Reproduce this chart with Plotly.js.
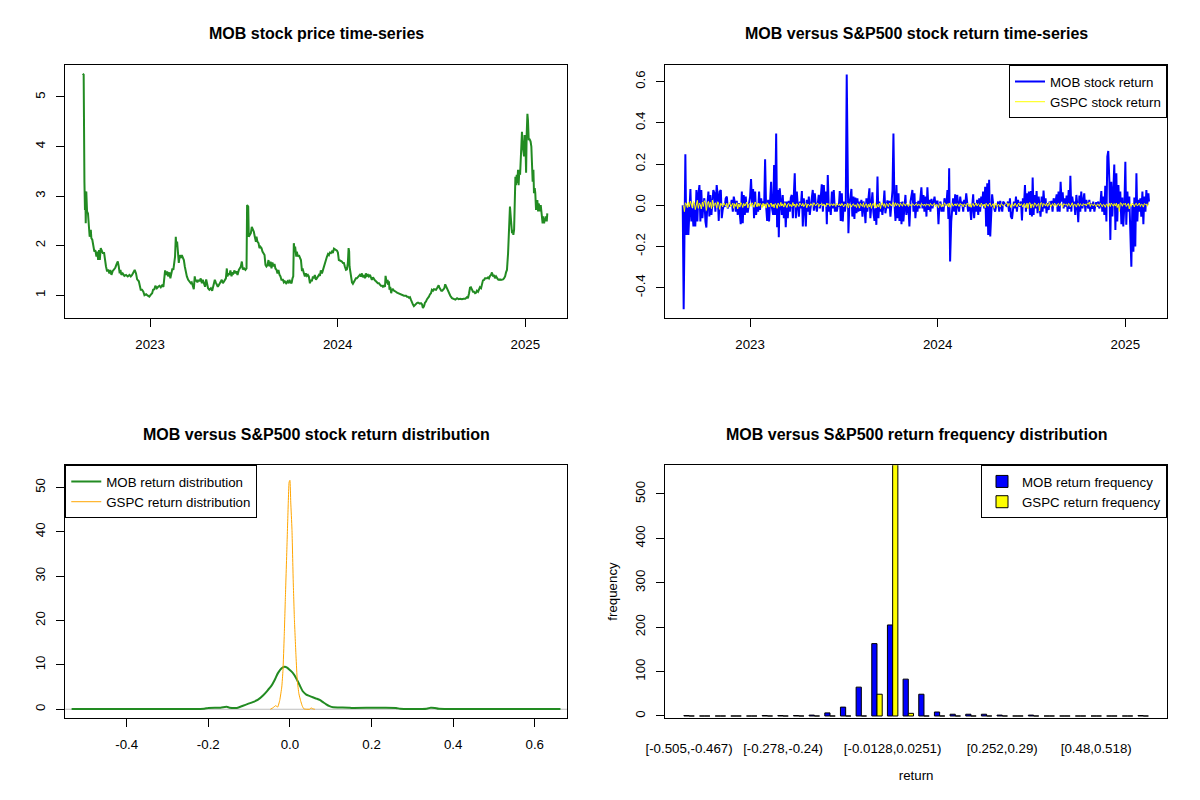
<!DOCTYPE html>
<html><head><meta charset="utf-8">
<script src="https://cdn.plot.ly/plotly-3.0.1.min.js"></script>
<style>html,body{margin:0;padding:0;background:#fff}#chart{width:1200px;height:800px}</style>
</head><body><div id="chart"></div>
<script>
// ---------- Panel 1: MOB price (decimal years) ----------
const priceYears = [
2022.641,2022.646,2022.650,2022.653,2022.655,2022.657,2022.660,2022.664,2022.669,2022.673,
2022.678,2022.684,2022.687,2022.692,2022.698,2022.703,2022.708,2022.714,2022.719,2022.723,
2022.728,2022.732,2022.737,2022.742,2022.748,2022.755,2022.760,2022.765,2022.771,2022.776,
2022.783,2022.788,2022.794,2022.801,2022.808,2022.815,2022.822,2022.828,2022.833,2022.838,
2022.842,2022.847,2022.854,2022.863,2022.872,2022.881,2022.890,2022.897,2022.904,2022.911,
2022.918,2022.925,2022.931,2022.940,2022.945,2022.950,2022.957,2022.964,2022.970,2022.979,
2022.988,2022.996,2023.004,2023.011,2023.016,2023.023,2023.028,2023.036,2023.043,2023.050,
2023.057,2023.064,2023.071,2023.076,2023.080,2023.085,2023.091,2023.096,2023.103,2023.108,
2023.114,2023.119,2023.124,2023.128,2023.133,2023.137,2023.140,2023.144,2023.149,2023.153,
2023.158,2023.164,2023.169,2023.174,2023.180,2023.185,2023.190,2023.196,2023.203,2023.210,
2023.217,2023.222,2023.228,2023.233,2023.238,2023.242,2023.247,2023.252,2023.258,2023.263,
2023.270,2023.276,2023.281,2023.288,2023.293,2023.299,2023.304,2023.309,2023.316,2023.324,
2023.331,2023.338,2023.345,2023.350,2023.356,2023.361,2023.366,2023.372,2023.377,2023.382,
2023.388,2023.393,2023.398,2023.404,2023.409,2023.412,2023.418,2023.423,2023.428,2023.434,
2023.439,2023.444,2023.450,2023.455,2023.460,2023.466,2023.473,2023.478,2023.484,2023.489,
2023.494,2023.501,2023.508,2023.514,2023.517,2023.523,2023.526,2023.532,2023.537,2023.542,
2023.548,2023.553,2023.558,2023.564,2023.567,2023.572,2023.578,2023.583,2023.588,2023.594,
2023.599,2023.604,2023.610,2023.615,2023.620,2023.626,2023.631,2023.636,2023.642,2023.647,
2023.652,2023.658,2023.663,2023.668,2023.674,2023.679,2023.684,2023.690,2023.695,2023.700,
2023.708,2023.713,2023.718,2023.725,2023.732,2023.738,2023.743,2023.748,2023.754,2023.759,
2023.763,2023.766,2023.770,2023.773,2023.779,2023.782,2023.788,2023.793,2023.798,2023.804,
2023.809,2023.814,2023.820,2023.825,2023.830,2023.836,2023.841,2023.846,2023.852,2023.857,
2023.862,2023.868,2023.873,2023.878,2023.884,2023.889,2023.894,2023.900,2023.905,2023.910,
2023.916,2023.921,2023.926,2023.932,2023.937,2023.942,2023.948,2023.953,2023.958,2023.964,
2023.969,2023.974,2023.980,2023.985,2023.990,2023.996,2024.001,2024.006,2024.012,2024.017,
2024.022,2024.028,2024.033,2024.038,2024.044,2024.049,2024.054,2024.058,2024.061,2024.063,
2024.067,2024.070,2024.076,2024.081,2024.086,2024.092,2024.097,2024.102,2024.108,2024.113,
2024.118,2024.124,2024.129,2024.134,2024.140,2024.145,2024.150,2024.156,2024.161,2024.166,
2024.172,2024.177,2024.182,2024.188,2024.193,2024.198,2024.204,2024.209,2024.214,2024.220,
2024.225,2024.230,2024.236,2024.241,2024.246,2024.252,2024.255,2024.259,2024.262,2024.266,
2024.269,2024.273,2024.276,2024.280,2024.285,2024.289,2024.294,2024.300,2024.305,2024.310,
2024.316,2024.321,2024.326,2024.332,2024.337,2024.342,2024.348,2024.353,2024.358,2024.364,
2024.369,2024.374,2024.380,2024.385,2024.390,2024.396,2024.401,2024.406,2024.412,2024.417,
2024.422,2024.428,2024.433,2024.438,2024.444,2024.449,2024.454,2024.460,2024.465,2024.470,
2024.476,2024.481,2024.486,2024.492,2024.497,2024.502,2024.508,2024.513,2024.518,2024.524,
2024.529,2024.534,2024.538,2024.541,2024.547,2024.552,2024.557,2024.563,2024.568,2024.573,
2024.579,2024.584,2024.591,2024.600,2024.609,2024.618,2024.627,2024.636,2024.644,2024.653,
2024.662,2024.671,2024.680,2024.689,2024.694,2024.700,2024.705,2024.710,2024.716,2024.721,
2024.726,2024.732,2024.737,2024.742,2024.748,2024.753,2024.758,2024.764,2024.769,2024.774,
2024.780,2024.785,2024.790,2024.796,2024.801,2024.806,2024.812,2024.817,2024.822,2024.828,
2024.833,2024.838,2024.844,2024.849,2024.854,2024.860,2024.865,2024.870,2024.876,2024.881,
2024.886,2024.892,2024.897,2024.902,2024.908,2024.911,2024.915,2024.918,2024.922,2024.925,
2024.929,2024.932,2024.936,2024.940,2024.943,2024.947,2024.950,2024.954,2024.957,2024.961,
2024.964,2024.968,2024.972,2024.975,2024.979,2024.982,2024.986,2024.989,2024.993,2024.996,
2025.000,2025.004,2025.007,2025.011,2025.014,2025.018,2025.021,2025.025,2025.028,2025.032,
2025.036,2025.039,2025.043,2025.046,2025.050,2025.053,2025.057,2025.060,2025.064,2025.068,
2025.071,2025.075,2025.078,2025.082,2025.085,2025.089,2025.092,2025.096,2025.100,2025.103,
2025.107,2025.110,2025.114,2025.117];
const priceValues = [
5.47,5.45,3.29,2.72,3.10,2.45,3.09,2.69,2.65,2.45,
2.18,2.32,2.15,2.12,2.01,1.88,1.91,1.78,1.88,1.71,
1.91,1.71,1.95,1.88,1.85,1.85,1.65,1.58,1.48,1.52,
1.44,1.51,1.41,1.49,1.52,1.56,1.63,1.68,1.58,1.44,
1.51,1.41,1.44,1.39,1.41,1.38,1.41,1.38,1.41,1.46,
1.51,1.44,1.32,1.28,1.21,1.11,1.11,1.07,1.00,1.02,
0.99,0.97,1.01,1.04,1.11,1.12,1.19,1.14,1.17,1.19,
1.16,1.20,1.17,1.31,1.50,1.41,1.48,1.38,1.46,1.34,
1.44,1.54,1.51,1.65,1.78,2.18,1.98,2.08,1.85,1.65,
1.81,1.75,1.81,1.75,1.71,1.58,1.44,1.38,1.31,1.28,
1.24,1.26,1.17,1.12,1.38,1.28,1.31,1.26,1.31,1.28,
1.34,1.24,1.31,1.24,1.17,1.32,1.17,1.14,1.11,1.14,
1.09,1.21,1.31,1.26,1.21,1.17,1.20,1.24,1.28,1.31,
1.24,1.28,1.31,1.34,1.54,1.38,1.44,1.41,1.50,1.38,
1.46,1.44,1.50,1.44,1.48,1.41,1.51,1.54,1.58,1.68,
1.52,1.54,1.51,1.54,2.82,2.79,2.18,2.22,2.25,2.38,
2.32,2.28,2.18,2.08,2.18,2.08,2.05,1.95,1.98,1.95,
1.88,1.85,1.81,1.61,1.58,1.61,1.71,1.58,1.68,1.54,
1.66,1.58,1.63,1.54,1.51,1.44,1.51,1.41,1.38,1.31,
1.31,1.26,1.28,1.24,1.28,1.24,1.31,1.26,1.24,1.34,
1.38,2.05,1.91,1.98,1.78,1.88,1.78,1.81,1.75,1.71,
1.51,1.52,1.44,1.38,1.44,1.39,1.41,1.38,1.24,1.31,
1.28,1.38,1.34,1.41,1.31,1.34,1.38,1.41,1.39,1.50,
1.44,1.51,1.59,1.65,1.71,1.77,1.83,1.81,1.86,1.85,
1.88,1.85,1.94,1.93,1.91,1.90,1.86,1.71,1.70,1.69,
1.68,1.65,1.65,1.58,1.51,1.52,1.65,1.95,1.88,1.58,
1.44,1.34,1.26,1.23,1.26,1.31,1.34,1.34,1.36,1.38,
1.41,1.38,1.44,1.36,1.41,1.34,1.44,1.39,1.41,1.38,
1.41,1.36,1.31,1.36,1.31,1.30,1.28,1.26,1.24,1.24,
1.22,1.19,1.19,1.17,1.19,1.17,1.39,1.31,1.24,1.31,
1.21,1.28,1.11,1.17,1.04,1.11,1.12,1.09,1.07,1.07,
1.05,1.04,1.03,1.03,1.01,1.01,1.00,0.99,0.99,0.99,
0.97,0.97,0.95,0.96,0.91,0.84,0.81,0.78,0.81,0.81,
0.84,0.85,0.84,0.83,0.84,0.82,0.74,0.78,0.85,0.87,
0.92,0.94,0.97,1.02,1.04,1.11,1.09,1.12,1.11,1.11,
1.14,1.17,1.20,1.16,1.12,1.09,1.09,1.12,1.14,1.22,
1.16,1.11,1.04,0.99,0.94,0.92,0.91,0.94,0.92,0.93,
0.92,0.93,0.93,0.96,0.94,1.04,1.15,1.16,1.12,1.07,
1.07,1.04,1.05,1.09,1.07,1.11,1.16,1.14,1.23,1.30,
1.31,1.34,1.34,1.34,1.36,1.34,1.39,1.41,1.46,1.38,
1.41,1.34,1.38,1.34,1.32,1.31,1.32,1.31,1.31,1.32,
1.34,1.38,1.46,1.51,1.85,2.25,2.38,2.79,2.59,2.38,
2.25,2.32,2.22,2.32,2.79,3.39,3.22,3.43,3.26,3.53,
3.22,3.53,3.43,3.66,3.93,4.30,3.96,3.93,3.80,4.23,
4.13,3.47,4.23,4.66,4.53,4.13,4.16,4.13,4.10,4.00,
3.53,3.29,3.53,3.06,3.16,3.06,2.72,2.92,2.92,2.69,
2.85,2.79,2.69,2.82,2.72,2.62,2.45,2.59,2.45,2.55,
2.49,2.59,2.49,2.65];

// ---------- Panel 2: daily returns (decimal years) ----------
const returnYears = [
2022.641,2022.646,2022.650,2022.655,2022.660,2022.666,2022.671,2022.676,2022.682,2022.687,
2022.692,2022.698,2022.703,2022.708,2022.714,2022.719,2022.724,2022.730,2022.735,2022.740,
2022.746,2022.751,2022.756,2022.762,2022.767,2022.772,2022.778,2022.783,2022.788,2022.794,
2022.799,2022.804,2022.810,2022.815,2022.822,2022.828,2022.833,2022.838,2022.844,2022.849,
2022.854,2022.860,2022.865,2022.870,2022.876,2022.881,2022.886,2022.892,2022.897,2022.902,
2022.908,2022.913,2022.918,2022.924,2022.929,2022.934,2022.940,2022.945,2022.950,2022.956,
2022.961,2022.966,2022.972,2022.977,2022.982,2022.988,2022.993,2023.000,2023.005,2023.011,
2023.016,2023.021,2023.027,2023.032,2023.037,2023.043,2023.048,2023.053,2023.059,2023.064,
2023.069,2023.075,2023.080,2023.085,2023.091,2023.096,2023.101,2023.107,2023.112,2023.117,
2023.123,2023.128,2023.133,2023.139,2023.144,2023.149,2023.153,2023.158,2023.164,2023.169,
2023.174,2023.180,2023.185,2023.190,2023.196,2023.201,2023.206,2023.212,2023.217,2023.222,
2023.228,2023.233,2023.238,2023.244,2023.249,2023.254,2023.260,2023.265,2023.270,2023.276,
2023.281,2023.286,2023.292,2023.297,2023.302,2023.308,2023.313,2023.318,2023.324,2023.329,
2023.334,2023.340,2023.345,2023.350,2023.356,2023.361,2023.366,2023.372,2023.377,2023.382,
2023.388,2023.393,2023.398,2023.404,2023.409,2023.414,2023.420,2023.425,2023.430,2023.436,
2023.441,2023.446,2023.452,2023.457,2023.462,2023.468,2023.473,
2023.478,2023.483,2023.489,2023.494,2023.499,2023.505,2023.510,2023.515,2023.521,2023.524,
2023.529,2023.535,2023.540,2023.545,2023.551,2023.556,2023.561,2023.567,2023.572,2023.577,
2023.583,2023.588,2023.593,2023.599,2023.604,2023.609,2023.615,2023.620,2023.625,2023.631,
2023.636,2023.641,2023.647,2023.652,2023.657,2023.663,2023.668,2023.673,2023.679,2023.684,
2023.689,2023.695,2023.700,2023.705,2023.711,2023.716,2023.721,2023.727,2023.732,2023.737,
2023.743,2023.748,2023.753,2023.759,2023.764,2023.769,2023.775,2023.780,2023.785,2023.791,
2023.796,2023.801,2023.807,2023.812,2023.817,2023.823,2023.828,2023.833,2023.839,2023.844,
2023.849,2023.855,2023.860,2023.865,2023.871,2023.876,2023.881,2023.887,2023.892,2023.897,
2023.903,2023.908,2023.913,2023.919,2023.924,2023.929,2023.935,2023.940,2023.945,2023.951,
2023.956,2023.961,2023.967,2023.972,2023.977,2023.983,2023.988,2023.993,2023.999,2024.004,
2024.009,2024.015,2024.020,2024.025,2024.031,2024.036,2024.041,2024.047,2024.052,2024.057,
2024.061,2024.066,2024.072,2024.077,2024.082,2024.088,2024.093,2024.098,2024.104,2024.109,
2024.114,2024.120,2024.125,2024.130,2024.136,2024.141,2024.146,2024.152,2024.157,2024.162,
2024.168,2024.173,2024.178,2024.184,2024.189,2024.194,2024.200,2024.205,2024.210,2024.216,
2024.221,2024.226,2024.232,2024.237,2024.242,2024.248,2024.253,2024.258,2024.264,2024.269,
2024.274,2024.280,2024.285,2024.290,2024.296,2024.301,2024.306,2024.312,2024.317,2024.322,
2024.328,2024.333,2024.338,2024.344,2024.349,
2024.369,2024.374,2024.380,2024.385,2024.390,2024.396,2024.401,2024.406,2024.412,2024.417,
2024.422,2024.428,2024.433,2024.438,2024.444,2024.449,2024.454,2024.460,2024.465,2024.470,
2024.476,2024.481,2024.486,2024.492,2024.497,2024.502,2024.506,2024.511,2024.516,2024.522,
2024.527,2024.532,2024.538,2024.543,2024.548,2024.554,2024.559,2024.564,2024.570,2024.575,
2024.580,2024.586,2024.591,2024.596,2024.602,2024.607,2024.612,2024.618,2024.623,2024.628,
2024.634,2024.639,2024.644,2024.650,2024.655,2024.660,2024.666,2024.671,2024.676,2024.682,
2024.687,2024.692,2024.698,2024.703,2024.707,2024.712,2024.717,2024.723,2024.728,2024.733,
2024.739,2024.744,2024.749,2024.755,2024.760,2024.765,2024.771,2024.776,2024.781,2024.787,
2024.792,2024.797,2024.803,2024.808,2024.813,2024.819,2024.824,2024.829,2024.835,2024.840,
2024.845,2024.851,2024.856,2024.861,2024.867,2024.872,2024.877,2024.883,2024.888,2024.893,
2024.899,2024.904,2024.909,2024.915,2024.920,2024.925,2024.931,2024.936,2024.941,2024.947,
2024.952,2024.957,2024.963,2024.968,2024.973,2024.979,2024.984,2024.989,2024.995,2025.000,
2025.005,2025.011,2025.016,2025.021,2025.027,2025.032,2025.037,2025.043,2025.048,2025.053,
2025.059,2025.064,2025.069,2025.075,2025.080,2025.085,2025.091,2025.096,2025.101,2025.107,
2025.112,2025.117,2025.123,2025.126];
const mobReturns = [
0.000,-0.504,-0.176,0.247,-0.144,0.000,-0.144,0.000,0.079,-0.079,
-0.015,-0.103,0.010,-0.103,0.074,-0.079,0.050,0.098,-0.079,0.074,
-0.063,0.000,0.034,-0.079,-0.108,0.000,0.066,-0.055,0.050,-0.047,
0.000,0.074,0.058,-0.031,0.098,0.042,-0.076,0.066,0.074,-0.063,
-0.023,0.000,-0.007,0.034,0.042,-0.015,0.000,-0.002,0.001,0.026,
-0.031,0.042,0.018,-0.031,0.021,-0.047,0.010,-0.063,-0.092,0.066,
-0.087,0.050,-0.047,0.042,-0.031,-0.031,0.001,0.042,0.127,0.001,
0.079,-0.063,0.066,-0.047,0.001,-0.031,0.066,-0.023,0.034,-0.007,
0.018,0.001,0.223,0.001,-0.076,0.026,-0.079,0.034,0.114,-0.015,
-0.047,0.195,-0.047,0.348,-0.107,0.074,-0.155,0.082,0.001,-0.047,
0.050,-0.063,0.018,-0.107,0.018,-0.063,0.021,-0.031,0.037,0.050,
-0.063,0.090,0.155,-0.063,0.066,0.001,-0.055,0.018,-0.015,0.069,
-0.103,0.034,-0.015,-0.103,0.026,-0.031,0.042,-0.047,0.001,0.010,
0.074,-0.027,0.058,0.001,-0.031,0.010,0.050,-0.015,0.042,0.102,
-0.031,0.098,0.001,0.066,-0.092,0.147,-0.031,0.001,-0.047,0.066,
-0.015,0.074,-0.031,0.001,-0.031,0.001,-0.007,
0.069,-0.076,0.058,-0.079,0.018,-0.031,0.005,0.634,0.018,-0.136,
0.001,0.042,0.079,-0.055,0.042,-0.066,0.037,-0.039,0.034,-0.031,
0.018,-0.027,0.026,-0.055,0.018,0.001,-0.087,0.034,-0.031,0.034,
0.082,-0.063,0.001,0.063,-0.031,-0.076,-0.015,-0.095,0.139,-0.063,
0.018,-0.031,0.001,-0.047,0.001,0.071,-0.039,-0.007,0.024,-0.015,
0.021,-0.055,0.005,0.074,0.348,0.018,-0.076,0.098,-0.063,0.058,
-0.076,0.014,-0.092,0.018,-0.079,0.018,0.050,-0.047,0.001,-0.007,
-0.103,0.018,0.050,0.074,-0.031,0.058,-0.063,0.014,-0.031,0.021,
-0.015,0.042,0.087,-0.015,0.050,-0.031,0.042,-0.055,0.087,-0.023,
0.026,-0.031,0.031,-0.015,0.018,0.042,0.001,0.018,0.018,-0.092,
0.001,0.018,-0.031,-0.007,-0.031,0.034,0.001,0.014,0.074,-0.066,
0.179,-0.273,-0.079,0.001,0.034,-0.031,0.053,-0.047,0.050,0.001,
-0.031,0.042,0.001,0.018,-0.031,0.026,-0.007,0.058,0.001,-0.031,
0.001,-0.015,-0.071,0.034,0.053,-0.063,0.010,-0.031,0.026,-0.047,
0.034,-0.031,0.042,0.001,0.066,-0.015,0.090,-0.103,0.106,-0.144,
0.123,-0.152,-0.031,0.053,0.001,-0.015,-0.031,0.001,-0.007,0.018,
-0.031,0.021,-0.015,-0.031,0.018,
-0.007,0.018,-0.031,0.034,-0.055,-0.066,0.001,0.018,-0.015,0.042,
-0.031,0.026,0.005,-0.007,0.018,-0.074,0.034,0.001,0.098,-0.031,
0.058,-0.015,0.066,-0.047,0.069,-0.055,0.135,-0.047,0.050,-0.015,
0.069,-0.039,0.042,-0.007,-0.055,0.042,-0.031,0.071,-0.015,0.034,
-0.039,0.010,-0.023,0.018,0.001,0.021,-0.031,0.034,0.001,0.018,
0.053,-0.031,0.066,-0.031,0.114,0.018,0.063,-0.015,0.034,-0.007,
0.047,-0.031,0.074,-0.018,0.143,-0.031,0.042,0.001,0.018,-0.047,
0.050,0.001,-0.082,0.047,-0.031,0.066,-0.015,0.018,0.058,-0.031,
0.026,0.001,-0.015,0.026,-0.031,0.010,-0.018,0.018,-0.031,0.001,
0.014,-0.007,0.018,-0.015,0.001,0.069,-0.031,0.042,-0.047,0.095,
-0.079,0.236,0.263,0.114,-0.168,0.114,-0.055,0.074,0.198,-0.120,
0.155,-0.079,0.098,-0.015,0.066,-0.092,0.037,-0.103,0.001,0.211,
-0.095,0.066,-0.031,0.042,-0.095,-0.298,0.001,-0.225,0.037,-0.200,
0.155,-0.079,0.026,-0.031,0.034,-0.055,0.066,-0.092,0.042,-0.031,
0.074,0.001,0.058,0.018];
const gspcReturns = [
0.000,-0.003,-0.031,0.012,0.006,-0.011,0.015,-0.008,0.020,0.005,
-0.012,0.018,0.010,-0.021,0.009,0.024,-0.015,0.011,0.003,-0.018,
0.016,-0.006,0.022,0.013,-0.025,0.007,0.019,-0.010,0.014,-0.016,
0.025,-0.009,0.004,0.012,-0.013,0.017,0.006,-0.020,0.010,0.003,
-0.008,0.011,0.005,-0.004,0.009,-0.012,0.006,0.014,-0.007,0.002,
0.010,-0.015,0.008,-0.006,0.012,-0.018,0.007,-0.009,0.013,0.004,
-0.011,0.009,-0.004,0.006,0.015,-0.013,0.005,0.008,-0.006,0.012,
0.004,-0.010,0.016,0.002,-0.008,0.011,-0.005,0.009,0.003,-0.012,
0.010,-0.004,0.007,-0.014,0.012,0.006,-0.009,0.004,0.011,-0.007,
0.005,-0.012,0.008,0.003,-0.015,0.010,0.002,-0.006,0.014,-0.004,
0.007,-0.009,0.012,0.003,-0.011,0.006,0.009,-0.005,0.004,-0.008,
0.013,-0.003,0.006,-0.010,0.008,0.002,-0.006,0.011,0.005,-0.004,
0.009,-0.007,0.004,0.010,-0.012,0.006,0.003,-0.005,0.008,0.002,
-0.006,0.012,0.004,-0.003,0.007,0.010,-0.008,0.005,0.002,0.009,
-0.004,0.006,0.003,-0.007,0.011,0.002,0.008,-0.005,0.004,0.006,
-0.003,0.008,0.002,-0.006,0.010,0.004,-0.002,
0.007,-0.004,0.009,0.002,-0.008,0.005,0.003,-0.006,0.010,-0.013,
0.006,0.004,-0.009,0.003,0.007,-0.005,0.002,-0.011,0.008,0.005,
-0.014,0.009,0.003,-0.006,0.012,-0.010,0.004,0.007,-0.012,0.005,
-0.008,0.011,-0.015,0.006,0.009,-0.007,0.012,-0.013,0.004,-0.009,
0.010,-0.016,0.006,0.013,-0.005,0.008,-0.011,0.009,0.004,-0.007,
0.011,0.006,-0.004,0.009,0.014,-0.006,0.012,-0.003,0.008,0.005,
-0.007,0.010,0.004,-0.005,0.011,0.006,-0.004,0.009,0.003,-0.006,
0.008,0.002,-0.005,0.007,0.004,-0.003,0.006,0.009,-0.004,0.005,
0.003,-0.006,0.008,0.004,-0.002,0.006,-0.005,0.007,0.002,0.004,
-0.005,0.009,0.003,-0.004,0.006,0.010,-0.007,0.004,0.002,-0.012,
0.008,0.006,-0.009,0.005,-0.006,0.012,0.004,-0.003,0.007,-0.008,
0.011,-0.010,0.006,0.009,-0.005,0.004,0.007,-0.004,0.008,0.003,
-0.006,0.009,0.002,0.005,-0.008,0.006,0.004,-0.005,0.010,0.003,
-0.007,0.008,-0.010,0.005,0.009,-0.006,0.004,0.011,-0.004,0.007,
0.003,-0.008,0.010,0.005,-0.004,0.006,-0.012,0.009,0.002,-0.005,
0.007,0.010,-0.006,0.004,0.008,-0.015,0.005,0.011,-0.007,0.004,
0.002,-0.009,0.008,0.005,-0.004,
0.012,-0.006,0.009,0.003,-0.011,0.007,0.004,-0.005,0.010,0.002,
-0.008,0.006,0.011,-0.004,0.007,0.003,-0.009,0.008,0.005,-0.012,
0.010,-0.018,0.009,0.012,-0.014,0.006,0.004,-0.010,0.011,0.007,
-0.006,0.003,0.009,-0.028,0.010,0.012,-0.007,0.008,0.005,-0.004,
0.011,-0.006,0.007,0.013,-0.009,0.004,0.008,-0.005,0.010,0.003,
-0.007,0.006,0.009,-0.004,0.008,0.005,-0.010,0.007,0.004,0.002,
0.006,-0.005,0.009,0.003,-0.008,0.007,0.012,-0.006,0.005,0.004,
-0.009,0.006,0.010,-0.005,0.007,0.003,-0.004,0.008,0.002,0.006,
-0.004,0.009,0.005,0.016,-0.006,0.008,0.004,-0.003,0.007,0.002,
-0.008,0.006,0.004,-0.005,0.009,0.003,-0.007,0.005,0.002,-0.010,
0.006,0.004,-0.008,0.009,-0.006,0.011,0.003,-0.005,0.008,-0.004,
0.010,-0.011,0.006,-0.030,0.012,0.009,-0.005,0.008,0.004,0.010,
-0.006,0.005,0.009,-0.018,0.007,-0.005,0.010,0.004,-0.008,0.006,
0.009,-0.004,0.007,0.011,-0.006,0.005,0.003,-0.009,0.008,0.004,
0.006,-0.005,0.010,0.012];

// ---------- Panel 3: kernel densities ----------
const mobDensX = [-0.535,-0.40,-0.30,-0.21,-0.20,-0.17,-0.155,-0.148,-0.13,-0.115,
 -0.103,-0.091,-0.079,-0.066,-0.056,-0.046,-0.038,-0.029,-0.021,-0.013,
 -0.007,-0.001,0.007,0.016,0.024,0.032,0.040,0.048,0.056,0.065,
 0.073,0.081,0.089,0.097,0.106,0.12,0.145,0.15,0.26,0.27,
 0.335,0.345,0.355,0.365,0.50,0.663];
const mobDensY = [0.08,0.08,0.08,0.1,0.3,0.35,0.55,0.35,0.3,0.8,
 1.2,1.6,2.1,3.1,4.1,5.2,6.5,8.2,9.2,9.6,
 9.4,8.9,8.2,6.9,5.4,4.0,3.3,3.0,2.7,2.4,
 2.1,1.6,1.1,0.7,0.45,0.4,0.35,0.3,0.3,0.1,
 0.12,0.35,0.3,0.1,0.08,0.08];
const gspcDensX = [-0.048,-0.042,-0.035,-0.030,-0.025,-0.020,-0.017,-0.014,-0.011,-0.007,
 -0.004,-0.002,0.000,0.002,0.005,0.008,0.011,0.015,0.018,0.022,
 0.026,0.030,0.034,0.040,0.048,0.052,0.056,0.061];
const gspcDensY = [0,0.3,0.8,0.5,2.0,5.0,8.8,16.4,25.5,37.6,
 46.7,51.2,51.6,46.7,40.6,29.2,20.2,11.8,6.5,3.5,
 2.0,0.8,0.1,0,0,0.3,0.1,0];

// ---------- Panel 4: binned frequencies ----------
const binLabels = ["[-0.505,-0.467)","[-0.467,-0.429)","[-0.429,-0.392)","[-0.392,-0.354)","[-0.354,-0.316)",
 "[-0.316,-0.278)","[-0.278,-0.24)","[-0.24,-0.202)","[-0.202,-0.164)","[-0.164,-0.126)",
 "[-0.126,-0.0885)","[-0.0885,-0.0506)","[-0.0506,-0.0128)","[-0.0128,0.0251)","[0.0251,0.063)",
 "[0.063,0.101)","[0.101,0.139)","[0.139,0.177)","[0.177,0.215)","[0.215,0.252)",
 "[0.252,0.29)","[0.29,0.328)","[0.328,0.366)","[0.366,0.404)","[0.404,0.442)",
 "[0.442,0.48)","[0.48,0.518)","[0.518,0.555)","[0.555,0.593)","[0.593,0.631]"];
const mobFreq  = [1,0,0,0,0,1,1,1,2,7,20,65,163,205,83,49,9,4,4,4,2,0,2,0,0,0,0,0,0,1];
const gspcFreq = [0,0,0,0,0,0,0,0,0,0,0,0,49,566,6,0,0,0,0,0,0,0,0,0,0,0,0,0,0,0];
const shownBinLabels = [binLabels[0], binLabels[6], binLabels[13], binLabels[20], binLabels[26]];

const yearTicks = [2023, 2024, 2025];
const yearTickText = ['2023', '2024', '2025'];
const priceTicks = [1, 2, 3, 4, 5];
const returnTicks = [-0.4, -0.2, 0, 0.2, 0.4, 0.6];
const returnTickText = ['-0.4', '-0.2', '0.0', '0.2', '0.4', '0.6'];
const densTicks = [0, 10, 20, 30, 40, 50];
const freqTicks = [0, 100, 200, 300, 400, 500];

// ---------- layout ----------
const FONT = 'Liberation Sans, Arial, Helvetica, sans-serif';
const SMALL = 13.3;
const XL = [0.0544, 0.4725], XR = [0.5544, 0.9725];
const YT = [0.6025, 0.9184], YB = [0.1029, 0.4184];

function ax(extra) {
  return Object.assign({
    showline: true, mirror: true, linecolor: '#000', linewidth: 1,
    ticks: 'outside', ticklen: 8, tickwidth: 1, tickcolor: '#000',
    showgrid: false, zeroline: false, fixedrange: true,
    tickfont: {family: FONT, size: SMALL, color: '#000'},
    ticklabelstandoff: 6
  }, extra);
}

const traces = [
  {type: 'scatter', mode: 'lines', x: priceYears, y: priceValues, xaxis: 'x', yaxis: 'y',
   line: {color: '#228B22', width: 2}, showlegend: false, name: 'MOB price'},
  {type: 'scatter', mode: 'lines', x: returnYears, y: mobReturns, xaxis: 'x2', yaxis: 'y2',
   line: {color: '#0000FF', width: 2}, name: 'MOB stock return', legend: 'legend'},
  {type: 'scatter', mode: 'lines', x: returnYears, y: gspcReturns, xaxis: 'x2', yaxis: 'y2',
   line: {color: '#FFFF00', width: 1}, name: 'GSPC stock return', legend: 'legend'},
  {type: 'scatter', mode: 'lines', x: mobDensX, y: mobDensY, xaxis: 'x3', yaxis: 'y3',
   line: {color: '#228B22', width: 2, shape: 'spline', smoothing: 0.6}, name: 'MOB return distribution', legend: 'legend2'},
  {type: 'scatter', mode: 'lines', x: gspcDensX, y: gspcDensY, xaxis: 'x3', yaxis: 'y3',
   line: {color: '#FFA500', width: 1, shape: 'spline', smoothing: 0.4}, name: 'GSPC return distribution', legend: 'legend2'},
  {type: 'bar', x: binLabels, y: mobFreq, xaxis: 'x4', yaxis: 'y4',
   marker: {color: '#0000FF', line: {color: '#000', width: 1}}, name: 'MOB return frequency', legend: 'legend3'},
  {type: 'bar', x: binLabels, y: gspcFreq, xaxis: 'x4', yaxis: 'y4',
   marker: {color: '#FFFF00', line: {color: '#000', width: 1}}, name: 'GSPC return frequency', legend: 'legend3'}
];

const legendBase = {
  bgcolor: '#FFFFFF', bordercolor: '#000', borderwidth: 1,
  font: {family: FONT, size: SMALL, color: '#000'}, tracegroupgap: 0, itemwidth: 30,
  yanchor: 'top', xref: 'paper', yref: 'paper'
};

const titleFont = {family: FONT, size: 16, color: '#000', weight: 700};
function title(text, x, y) {
  return {text: text, x: x, y: y, xref: 'paper', yref: 'paper', showarrow: false,
          xanchor: 'center', yanchor: 'middle', font: titleFont};
}

const layout = {
  width: 1200, height: 800,
  margin: {l: 0, r: 0, t: 0, b: 0},
  paper_bgcolor: '#FFFFFF', plot_bgcolor: '#FFFFFF',
  font: {family: FONT, size: SMALL, color: '#000'},
  barmode: 'group', bargap: 1 / 3, bargroupgap: 0,
  xaxis: ax({domain: XL, anchor: 'y', range: [2022.548, 2025.222], tickmode: 'array', tickvals: yearTicks, ticktext: yearTickText}),
  yaxis: ax({domain: YT, anchor: 'x', range: [0.54, 5.64], tickmode: 'array', tickvals: priceTicks, tickangle: -90}),
  xaxis2: ax({domain: XR, anchor: 'y2', range: [2022.548, 2025.222], tickmode: 'array', tickvals: yearTicks, ticktext: yearTickText}),
  yaxis2: ax({domain: YT, anchor: 'x2', range: [-0.547, 0.679], tickmode: 'array', tickvals: returnTicks, ticktext: returnTickText, tickangle: -90}),
  xaxis3: ax({domain: XL, anchor: 'y3', range: [-0.5505, 0.679], tickmode: 'array', tickvals: returnTicks, ticktext: returnTickText}),
  yaxis3: ax({domain: YB, anchor: 'x3', range: [-1.9, 55.0], tickmode: 'array', tickvals: densTicks, tickangle: -90}),
  xaxis4: ax({domain: XR, anchor: 'y4', type: 'category', range: [-1.52, 30.52], ticks: '', tickmode: 'array',
              tickvals: shownBinLabels, ticktext: shownBinLabels, tickangle: 0, ticklabelstandoff: 18,
              title: {text: 'return', font: {family: FONT, size: SMALL, color: '#000'}, standoff: 16}}),
  yaxis4: ax({domain: YB, anchor: 'x4', range: [-3.8, 564.6], tickmode: 'array', tickvals: freqTicks, tickangle: -90,
              title: {text: 'frequency', font: {family: FONT, size: SMALL, color: '#000'}, standoff: 12}}),
  legend: Object.assign({}, legendBase, {x: 0.9725, xanchor: 'right', y: 0.9184}),
  legend2: Object.assign({}, legendBase, {x: 0.0544, xanchor: 'left', y: 0.4184}),
  legend3: Object.assign({}, legendBase, {x: 0.9725, xanchor: 'right', y: 0.4184}),
  shapes: [
    {type: 'line', xref: 'x3 domain', x0: 0, x1: 1, yref: 'y3', y0: 0, y1: 0,
     line: {color: '#BEBEBE', width: 1}, layer: 'below'}
  ],
  annotations: [
    title('MOB stock price time-series', 0.2637, 0.9575),
    title('MOB versus S&P500 stock return time-series', 0.7634, 0.9575),
    title('MOB versus S&P500 stock return distribution', 0.2637, 0.4575),
    title('MOB versus S&P500 return frequency distribution', 0.7634, 0.4575)
  ]
};

Plotly.newPlot('chart', traces, layout, {staticPlot: true, displayModeBar: false});
</script>
</body></html>
